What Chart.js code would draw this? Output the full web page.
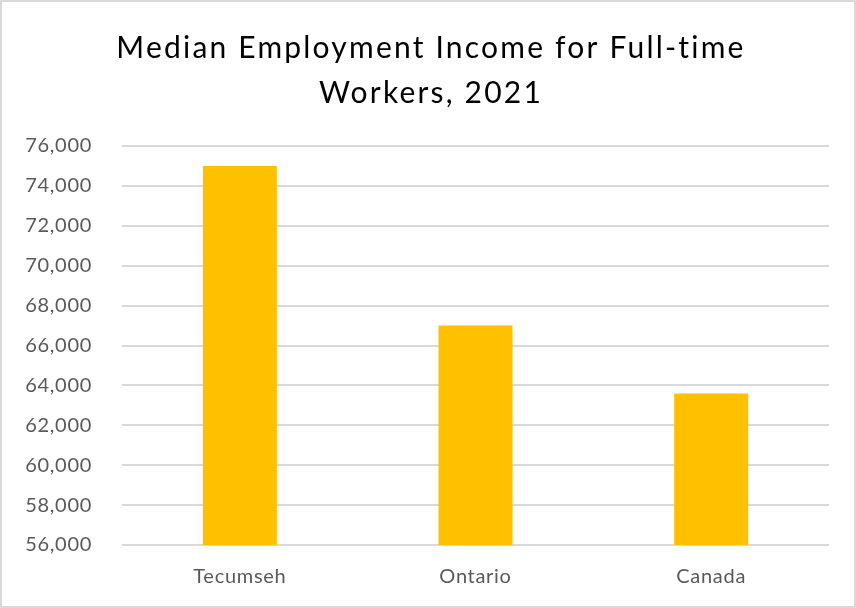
<!DOCTYPE html>
<html>
<head>
<meta charset="utf-8">
<script src="https://cdn.jsdelivr.net/npm/chart.js@4"></script>
<style>
  body { margin: 0; background: #fff; }
  #wrap { width: 856px; height: 608px; box-sizing: border-box; border: 2px solid #d9d9d9; }
  canvas { display: block; }
</style>
</head>
<body>
<div id="wrap"><canvas id="incomeChart" width="852" height="604"></canvas></div>
<script>
  // median employment income, full-time workers
  const regions = ['Tecumseh', 'Ontario', 'Canada'];
  const medianIncome = [75000, 67000, 63600];
  const titleLines = ['Median Employment Income for Full-time', 'Workers, 2021'];

  const FONT = "Lato, 'Open Sans', sans-serif";

  // slightly wider letters on the axis labels
  const spacing = {
    id: 'spacing',
    beforeUpdate: chart => { chart.ctx.letterSpacing = '0.7px'; },
    beforeDraw: chart => { chart.ctx.letterSpacing = '0.7px'; }
  };

  // two-line title drawn centred on the canvas
  const chartTitle = {
    id: 'chartTitle',
    afterDraw: chart => {
      const c = chart.ctx;
      c.save();
      c.letterSpacing = '2.2px';
      c.font = '30px ' + FONT;
      c.fillStyle = '#000';
      c.textAlign = 'center';
      c.textBaseline = 'alphabetic';
      c.fillText(titleLines[0], 429, 56);
      c.fillText(titleLines[1], 429, 101);
      c.restore();
    }
  };

  const ctx = document.getElementById('incomeChart').getContext('2d');
  const incomeChart = new Chart(ctx, {
    type: 'bar',
    data: {
      labels: regions,
      datasets: [{
        data: medianIncome,
        backgroundColor: '#ffc000',
        categoryPercentage: 1,
        barPercentage: 0.314
      }]
    },
    options: {
      responsive: false,
      animation: false,
      layout: { padding: { top: 144, right: 25, bottom: 17, left: 0 } },
      plugins: {
        legend: { display: false },
        tooltip: { enabled: false },
        title: { display: false }
      },
      scales: {
        x: {
          grid: { display: false, drawTicks: false },
          border: { display: false },
          ticks: { color: '#595959', font: { family: FONT, size: 20 }, padding: 20 },
          afterFit: scale => { scale.height = 44; }
        },
        y: {
          min: 56000,
          max: 76000,
          grid: { color: '#d9d9d9', lineWidth: 2, drawTicks: false },
          border: { display: false },
          ticks: {
            stepSize: 2000,
            color: '#595959',
            font: { family: FONT, size: 20 },
            padding: 30,
            callback: v => v.toLocaleString('en-US')
          },
          afterFit: scale => { scale.width = 120; }
        }
      }
    },
    plugins: [spacing, chartTitle]
  });
</script>
</body>
</html>
